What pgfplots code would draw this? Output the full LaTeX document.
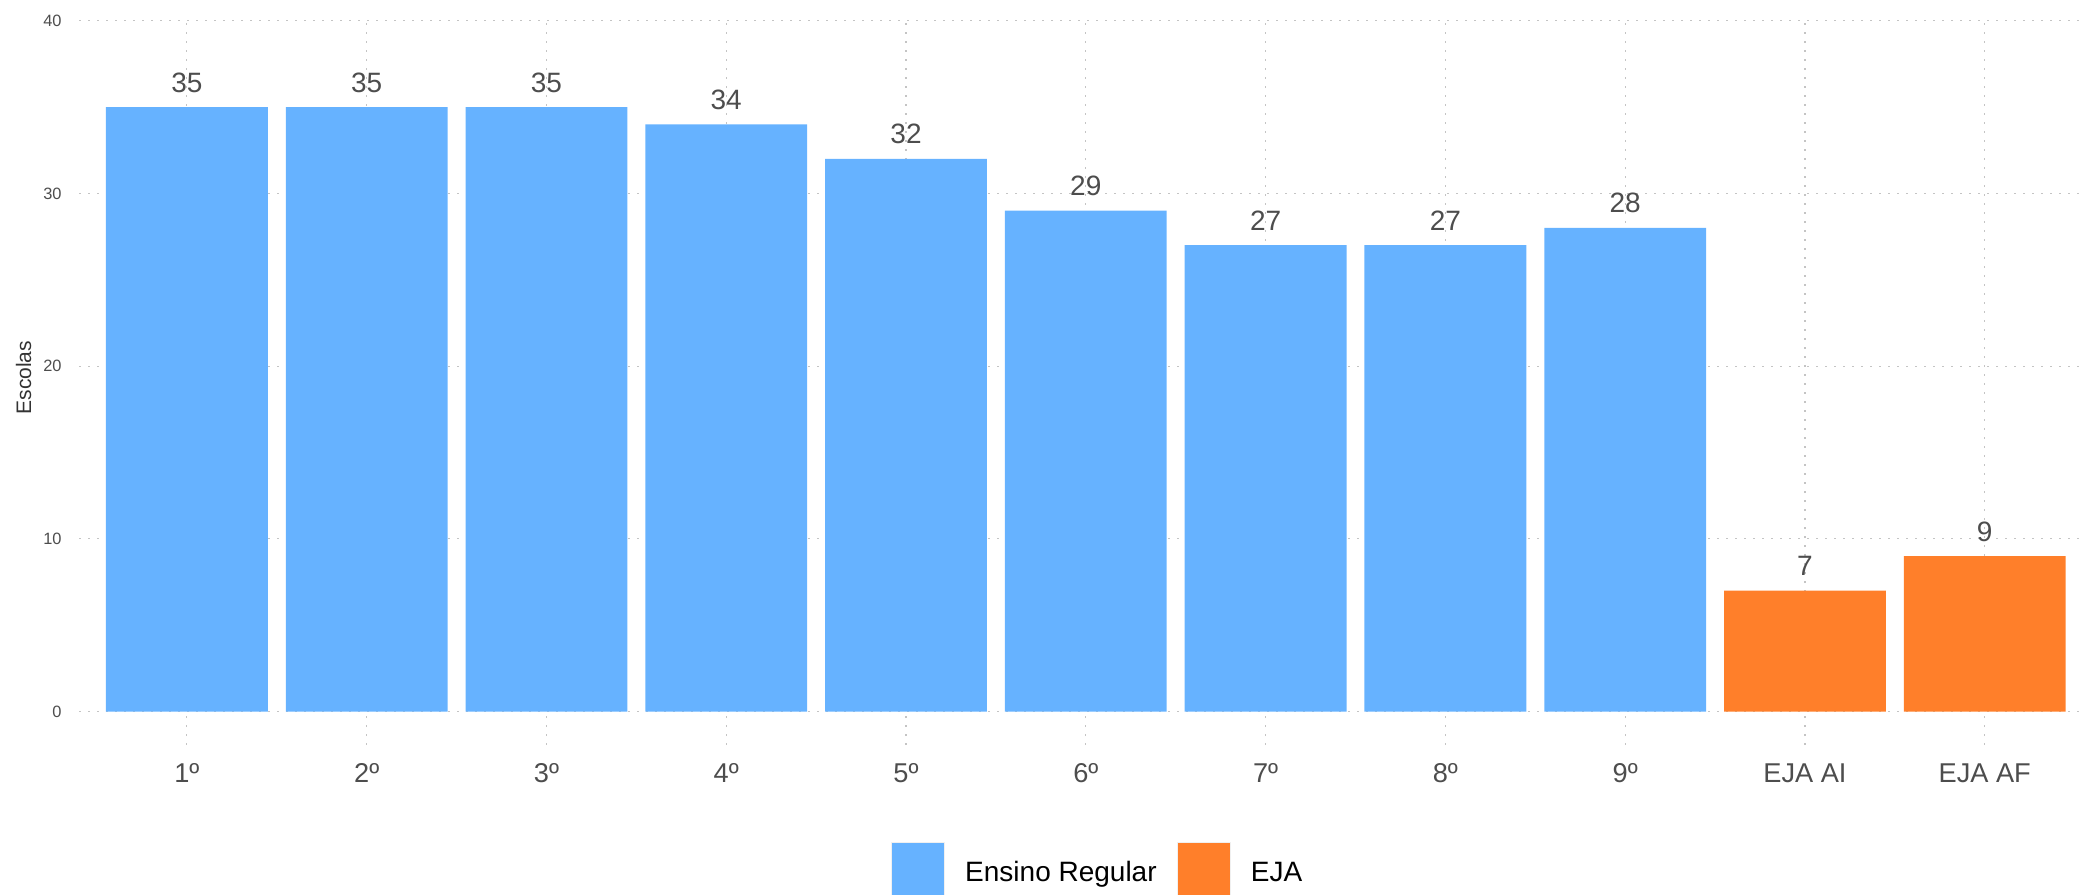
\documentclass[border=0pt]{standalone}
\usepackage{fontspec}
\setmainfont{Liberation Sans}
\usepackage{pgfplots}
\pgfplotsset{compat=1.18}
\definecolor{regblue}{HTML}{66B2FF}
\definecolor{ejaorange}{HTML}{FF7F2A}
\definecolor{txtgray}{HTML}{4D4D4D}
\definecolor{gridgray}{HTML}{C4C4C4}
\pgfplotsset{
  sqlegend/.style={legend image code/.code={\draw[##1, draw=black!6, line width=0.6pt] (0pt,-7pt) rectangle (26.5pt,19.5pt);}}
}
\begin{document}
\begin{tikzpicture}
\useasboundingbox (0,0) rectangle (1040pt,447pt);
\begin{axis}[
  at={(39.5pt,74.5pt)}, anchor=south west,
  scale only axis, width=1000.5pt, height=363pt,
  xmin=-0.6, xmax=10.53, ymin=-1.94, ymax=40.1,
  axis line style={draw=none},
  /pgf/number format/assume math mode=true,
  ybar, bar width=0.9,
  xtick={0,1,2,3,4,5,6,7,8,9,10},
  xticklabels={1º,2º,3º,4º,5º,6º,7º,8º,9º,EJA AI,EJA AF},
  ytick={0,10,20,30,40},
  major tick length=0pt,
  grid=major,
  major grid style={gridgray, line width=0.6pt, dash pattern=on 1pt off 3.5pt},
  xticklabel style={anchor=base, inner sep=0pt, yshift=-18.85pt, font=\fontsize{13.6}{16}\selectfont, text=txtgray},
  yticklabel style={anchor=east, inner sep=0pt, xshift=-8.5pt, font=\fontsize{8.2}{10}\selectfont, text=txtgray},
  ylabel={Escolas},
  ylabel style={at={(axis description cs:-0.0277,0.506)}, anchor=center, rotate=0, font=\fontsize{10.5}{12}\selectfont, text=black!80},
  nodes near coords,
  every node near coord/.append style={anchor=base, yshift=7.5pt, font=\fontsize{14}{16}\selectfont, text=txtgray},
  legend columns=2,
  legend style={
    at={(axis description cs:0.4058,-0.208)}, anchor=south west,
    draw=none, fill=none, inner sep=0pt, outer sep=0pt,
    column sep=10pt,
    cells={anchor=base west},
    nodes={inner sep=0pt, outer sep=0pt},
    font=\fontsize{14}{17}\selectfont,
  },
]
\addplot[fill=regblue, draw=none, bar shift=0pt, sqlegend] coordinates {
  (0,35) (1,35) (2,35) (3,34) (4,32) (5,29) (6,27) (7,27) (8,28)
};
\addlegendentry{Ensino Regular}
\addplot[fill=ejaorange, draw=none, bar shift=0pt, sqlegend] coordinates {
  (9,7) (10,9)
};
\addlegendentry{EJA}
\end{axis}
\end{tikzpicture}
\end{document}
